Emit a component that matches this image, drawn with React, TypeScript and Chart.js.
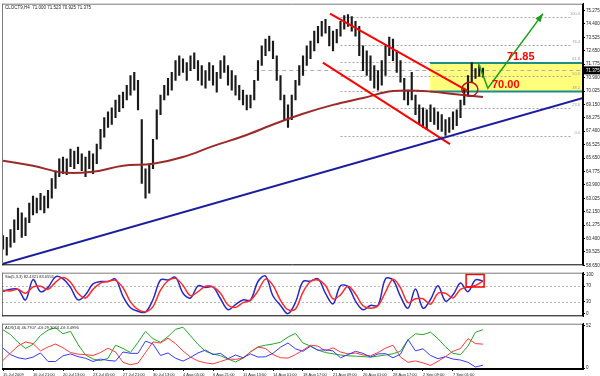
import React, { useEffect, useRef } from "react";
import { Chart, registerables } from "chart.js";

Chart.register(...registerables);

const FONT = '"Liberation Sans", Arial, sans-serif';

const chartTitle = "CLOCT9,H4  71.000 71.523 70.925 71.375";
const stochTitle = "Sto(5,3,3) 82.4321 83.0556";
const adxTitle = "ADX(14) 46.7707 +DI:29.3024 -DI:3.4996";

// OHLC bars (high / low), one per bar index
const barHighs = [
  60.59, 60.47, 60.98, 61.62, 62.39, 62.07, 61.75, 62.71, 63.16, 63.03,
  63.35, 63.16, 63.54, 64.31, 64.82, 65.6, 65.72, 65.6, 66.24, 66.11,
  66.37, 65.92, 65.72, 66.11, 65.92, 66.56, 67.52, 68.29, 68.67, 68.93,
  69.44, 69.76, 69.95, 70.4, 71.04, 71.24, 70.72, 68.16, 64.95, 65.28,
  66.88, 68.8, 69.76, 70.4, 70.85, 71.24, 72.01, 72.33, 72.13, 71.88,
  72.33, 72.52, 72.01, 71.69, 71.36, 71.88, 71.69, 71.24, 72.01, 72.33,
  71.69, 71.36, 71.04, 70.4, 70.08, 69.76, 69.76, 70.72, 72.01, 72.97,
  73.42, 73.61, 73.29, 72.33, 71.04, 69.76, 69.12, 69.76, 70.72, 71.69,
  72.33, 72.97, 73.29, 73.93, 74.25, 74.57, 74.7, 74.25, 73.93, 74.06,
  74.57, 74.95, 75.02, 74.89, 74.57, 74.25, 72.97, 72.65, 72.33, 71.69,
  71.36, 72.01, 72.97, 73.54, 73.42, 72.65, 72.01, 70.85, 70.08, 71.24,
  69.76, 69.12, 68.93, 68.8, 69.12, 68.93, 68.67, 68.48, 68.16, 68.29,
  68.67, 68.8, 69.44, 70.21, 71.04, 71.88, 71.49, 71.69, 71.52,
];
const barLows = [
  59.7, 59.31, 59.83, 60.15, 60.98, 60.47, 60.59, 61.43, 61.94, 62.07,
  62.26, 62.07, 62.39, 63.03, 63.67, 64.44, 64.63, 64.57, 65.08, 64.95,
  65.28, 64.82, 64.44, 64.95, 64.63, 65.28, 66.24, 67.01, 67.65, 67.84,
  68.29, 68.67, 68.93, 69.44, 69.76, 70.08, 68.8, 63.99, 63.03, 63.35,
  64.95, 66.88, 68.48, 69.44, 69.76, 70.08, 70.72, 71.04, 71.24, 70.72,
  71.36, 71.49, 70.72, 70.4, 70.21, 70.72, 70.4, 69.95, 70.85, 71.24,
  70.4, 70.08, 69.76, 69.44, 69.12, 68.8, 68.93, 69.44, 70.72, 71.69,
  72.33, 72.65, 72.13, 70.72, 69.44, 68.16, 67.65, 68.16, 69.44, 70.4,
  71.04, 71.69, 72.13, 72.65, 73.16, 73.61, 73.8, 72.97, 72.65, 73.16,
  73.61, 74.06, 74.25, 73.93, 73.61, 72.33, 71.36, 71.04, 70.72, 70.21,
  70.08, 70.4, 71.04, 72.33, 72.01, 71.24, 70.6, 69.44, 69.12, 69.44,
  68.48, 67.84, 67.65, 67.52, 68.03, 67.84, 67.52, 67.39, 67.13, 67.33,
  67.52, 67.77, 68.29, 69.12, 69.76, 70.6, 70.85, 70.98, 70.93,
];

// moving average samples
const maIndex = [0, 8, 16, 24, 32, 40, 48, 56, 64, 72, 80, 88, 96, 104, 112, 120, 128];
const maValues = [65.47, 65.15, 64.7, 64.76, 65.15, 65.28, 65.72, 66.43, 67.07, 67.84, 68.54, 69.12, 69.57, 70.02, 70.02, 69.83, 69.63];

// drawn objects
const trendX = [-0.27, 154.67];
const trendY = [58.74, 69.57];
const channelUpperX = [87.2, 124];
const channelUpperY = [75.08, 70.02];
const channelLowerX = [85.3, 119.2];
const channelLowerY = [71.88, 66.56];
const arrowX = [126.7, 129.3, 144];
const arrowY = [71.88, 70.21, 75.08];
const zoneStartX = 113.9;
const zoneTop = 71.85;
const zoneBottom = 70.0;
const zoneTopLabel = "71.85";
const zoneBottomLabel = "70.00";
const zoneTopLabelX = 134.4;
const zoneBottomLabelX = 130.4;
const circleX = 124.5;
const circleY = 70.14;
const lastPrice = 71.375;
const bidLineStartX = 67;
const fibStartX = 90;
const fibLevels = [74.88, 73.04, 71.9, 70.98, 70.05, 68.91, 67.07];
const fibLabels = ["100.0", "76.4", "61.8", "50.0", "38.2", "23.6", "0.0"];

const priceTicks = [
  58.65, 59.525, 60.4, 61.275, 62.15, 63.025, 63.9, 64.775, 65.65, 66.525,
  67.4, 68.275, 69.15, 70.025, 70.9, 71.775, 72.65, 73.525, 74.4, 75.275,
];

// indicators, one sample every 2 bars
const stochMain = [
  57, 62, 62, 35, 87, 56, 67, 94, 89, 67, 35, 48, 76, 82, 82, 88, 44, 15, 6, 4,
  36, 86, 86, 93, 52, 40, 71, 67, 68, 38, 10, 23, 35, 35, 82, 96, 45, 21, 0, 29,
  82, 83, 89, 52, 25, 71, 69, 32, 10, 21, 21, 89, 86, 44, 14, 63, 14, 36, 71, 32,
  48, 78, 56, 86, 83,
];
const stochSignal = [
  60, 58, 62, 52, 68, 70, 62, 80, 92, 80, 52, 40, 62, 78, 82, 85, 66, 30, 10, 5,
  18, 60, 84, 90, 72, 46, 56, 70, 68, 52, 22, 16, 28, 34, 58, 88, 72, 34, 10, 12,
  55, 82, 86, 72, 38, 48, 70, 50, 20, 14, 20, 55, 88, 66, 28, 38, 38, 24, 52, 52,
  40, 62, 68, 72, 83,
];
const stochLevels = [70, 30];
const stochTicks = [0, 30, 70, 100];
const stochBoxX = [123.5, 128.3];
const stochBoxY = [68, 100];

const adxMain = [
  47, 41, 31.6, 24, 29, 40, 46.5, 49.5, 42, 45, 29, 16, 11, 9, 12, 28, 24, 19, 31.6, 45,
  36, 31.6, 38.6, 47.5, 50, 39.6, 29, 20.5, 17.3, 15, 11, 7.5, 12, 20, 26, 28, 29.5, 31.6, 38, 42.5,
  30.7, 27, 22, 19, 17.5, 16, 15, 14.6, 14, 13.4, 14.6, 16, 17.5, 20.5, 34.7, 42, 41, 44, 36, 26,
  18, 16.5, 27, 44, 47,
];
const plusDI = [
  9.4, 18.5, 27, 32, 30, 21, 25.8, 29.5, 24.8, 19, 17, 16.5, 15.4, 19, 24.4, 19.7, 7, 4, 6, 19,
  32, 30.7, 36.6, 30, 21, 13.4, 8.7, 6.3, 5, 8, 11, 10.6, 12, 19.7, 25.6, 24, 16.5, 12.6, 12.2, 16.5,
  22, 28, 26.8, 21, 24.8, 19.7, 17.3, 18.5, 16, 15, 19, 24.4, 28, 13.4, 7, 8.7, 6.3, 3.2, 8.3, 14,
  20.5, 24, 36, 30, 29.3,
];
const minusDI = [
  24.4, 16.5, 12.6, 11, 13.4, 18.5, 8, 8, 15, 17.3, 14, 12, 8, 11, 9.4, 8.5, 19.7, 18, 18, 33,
  29.5, 15.4, 18.5, 12, 8.5, 13, 18.5, 22, 16.5, 18, 11.4, 16, 12.6, 17.3, 13.4, 13.8, 18, 25.6, 30.7, 23.6,
  20.5, 26.8, 21.7, 22.4, 21, 12.6, 16.5, 20.5, 18, 13.4, 17.3, 17.7, 12.6, 17, 35, 21, 23.6, 15.4, 11.4, 14,
  11, 9.8, 7, 1.2, 3.5,
];
const adxTicks = [0, 52];

const dateLabels = [
  "15 Jul 2009", "16 Jul 21:00", "20 Jul 13:00", "23 Jul 05:00", "27 Jul 21:00",
  "30 Jul 13:00", "4 Aug 05:00", "6 Aug 21:00", "11 Aug 13:00", "14 Aug 01:00",
  "18 Aug 17:00", "21 Aug 09:00", "26 Aug 01:00", "28 Aug 17:00", "2 Sep 09:00", "7 Sep 01:00",
];
const barsPerLabel = 8;
const indicatorStep = 2;

const X_MIN = -0.27;
const X_MAX = 154.67;
const AXIS_W = 17;
const SMALL = 4.5;
const TINY = 4;
const TEXT = "#222";

const xy = (xs: number[], ys: number[]) => xs.map((x, i) => ({ x, y: ys[i] }));
const stepSeries = (vals: number[]) => vals.map((v, k) => ({ x: k * indicatorStep, y: v }));

const framePlugin = {
  id: "frame",
  afterDraw(chart: any) {
    const { ctx, chartArea: a } = chart;
    ctx.save();
    ctx.strokeStyle = "#7a7a7a";
    ctx.lineWidth = 1;
    ctx.beginPath();
    ctx.moveTo(a.left + 0.5, a.top);
    ctx.lineTo(a.left + 0.5, a.bottom);
    ctx.moveTo(a.left, a.top + 0.5);
    ctx.lineTo(a.right, a.top + 0.5);
    ctx.stroke();
    ctx.strokeStyle = "#000";
    ctx.beginPath();
    ctx.moveTo(a.left, a.bottom - 0.5);
    ctx.lineTo(a.right, a.bottom - 0.5);
    ctx.moveTo(a.right - 0.5, a.top);
    ctx.lineTo(a.right - 0.5, a.bottom);
    ctx.stroke();
    ctx.restore();
  },
};

const mainOverlay = {
  id: "mainOverlay",
  beforeDatasetsDraw(chart: any) {
    const { ctx, chartArea: a, scales } = chart;
    const x = scales.x, y = scales.y;
    ctx.save();
    ctx.beginPath();
    ctx.rect(a.left, a.top, a.right - a.left, a.bottom - a.top);
    ctx.clip();
    const zx = x.getPixelForValue(zoneStartX);
    const zt = y.getPixelForValue(zoneTop);
    const zb = y.getPixelForValue(zoneBottom);
    ctx.fillStyle = "#ffff7c";
    ctx.fillRect(zx, zt, a.right - zx, zb - zt);
    const fx = x.getPixelForValue(fibStartX);
    ctx.strokeStyle = "#a8a8a8";
    ctx.lineWidth = 1;
    ctx.setLineDash([2, 2]);
    fibLevels.forEach((lv) => {
      const py = Math.round(y.getPixelForValue(lv)) + 0.5;
      ctx.beginPath();
      ctx.moveTo(fx, py);
      ctx.lineTo(a.right - 12, py);
      ctx.stroke();
    });
    ctx.strokeStyle = "#b0b0b0";
    ctx.setLineDash([4, 3]);
    const by = Math.round(y.getPixelForValue(lastPrice)) + 0.5;
    ctx.beginPath();
    ctx.moveTo(x.getPixelForValue(bidLineStartX), by);
    ctx.lineTo(a.right, by);
    ctx.stroke();
    ctx.setLineDash([]);
    ctx.strokeStyle = "#1c8c8c";
    ctx.lineWidth = 2;
    ctx.beginPath();
    ctx.moveTo(zx, zt);
    ctx.lineTo(a.right, zt);
    ctx.moveTo(zx, zb);
    ctx.lineTo(a.right, zb);
    ctx.stroke();
    ctx.fillStyle = "#9a9a9a";
    ctx.font = `${TINY}px ${FONT}`;
    ctx.textAlign = "right";
    ctx.textBaseline = "bottom";
    fibLevels.forEach((lv, i) => {
      ctx.fillText(fibLabels[i], a.right - 3, y.getPixelForValue(lv) - 1);
    });
    ctx.restore();
  },
  afterDatasetsDraw(chart: any) {
    const { ctx, chartArea: a, scales } = chart;
    const x = scales.x, y = scales.y;
    ctx.save();
    ctx.strokeStyle = "#b01818";
    ctx.lineWidth = 1.5;
    ctx.beginPath();
    ctx.ellipse(x.getPixelForValue(circleX), y.getPixelForValue(circleY), 8, 7, 0, 0, Math.PI * 2);
    ctx.stroke();
    const n = arrowX.length;
    const x1 = x.getPixelForValue(arrowX[n - 1]), y1 = y.getPixelForValue(arrowY[n - 1]);
    const x0 = x.getPixelForValue(arrowX[n - 2]), y0 = y.getPixelForValue(arrowY[n - 2]);
    const ang = Math.atan2(y1 - y0, x1 - x0);
    ctx.fillStyle = "#18a018";
    ctx.beginPath();
    ctx.moveTo(x1, y1);
    ctx.lineTo(x1 - 9 * Math.cos(ang - 0.35), y1 - 9 * Math.sin(ang - 0.35));
    ctx.lineTo(x1 - 9 * Math.cos(ang + 0.35), y1 - 9 * Math.sin(ang + 0.35));
    ctx.closePath();
    ctx.fill();
    ctx.fillStyle = "#ff0000";
    ctx.font = `bold 11px ${FONT}`;
    ctx.textAlign = "left";
    ctx.textBaseline = "alphabetic";
    ctx.fillText(zoneTopLabel, x.getPixelForValue(zoneTopLabelX), y.getPixelForValue(zoneTop) - 3);
    ctx.fillText(zoneBottomLabel, x.getPixelForValue(zoneBottomLabelX), y.getPixelForValue(zoneBottom) - 3);
    ctx.fillStyle = TEXT;
    ctx.font = `${SMALL}px ${FONT}`;
    ctx.textBaseline = "top";
    ctx.fillText(chartTitle, a.left + 3, a.top + 2);
    ctx.restore();
  },
  afterDraw(chart: any) {
    const { ctx, chartArea: a, scales } = chart;
    const y = scales.y;
    const py = y.getPixelForValue(lastPrice);
    ctx.save();
    ctx.fillStyle = "#000";
    ctx.fillRect(a.right, py - 4, 600 - a.right, 8);
    ctx.fillStyle = "#fff";
    ctx.font = `${SMALL}px ${FONT}`;
    ctx.textAlign = "left";
    ctx.textBaseline = "middle";
    ctx.fillText(lastPrice.toFixed(3), a.right + 3, py);
    ctx.restore();
  },
};

function rightAxis(min: number, max: number, ticks: number[], fmt: (v: number) => string) {
  return {
    position: "right",
    min,
    max,
    afterFit(s: any) {
      s.width = AXIS_W;
    },
    afterBuildTicks(s: any) {
      s.ticks = ticks.map((v) => ({ value: v }));
    },
    ticks: {
      font: { size: SMALL, family: FONT },
      color: TEXT,
      padding: 1,
      autoSkip: false,
      callback: (v: number) => fmt(v),
    },
    grid: { display: true, drawOnChartArea: false, drawTicks: true, tickLength: 2, color: "#000" },
    border: { display: true, color: "#000" },
  };
}

export default function App() {
  const mainRef = useRef<HTMLCanvasElement>(null);
  const stochRef = useRef<HTMLCanvasElement>(null);
  const adxRef = useRef<HTMLCanvasElement>(null);

  useEffect(() => {
    const charts: Chart[] = [];
    const lineDs = (data: any[], color: string, width: number, extra: any = {}) => ({
      type: "line",
      data,
      borderColor: color,
      borderWidth: width,
      pointRadius: 0,
      fill: false,
      tension: 0,
      order: 1,
      ...extra,
    });

    charts.push(
      new Chart(mainRef.current!, {
        type: "bar",
        data: {
          datasets: [
            {
              type: "bar",
              data: barHighs.map((h, i) => ({ x: i, y: [barLows[i], h] })),
              backgroundColor: "#1a1a1a",
              barThickness: 1.5,
              order: 10,
            } as any,
            lineDs(xy(maIndex, maValues), "#9c2a2a", 2, { tension: 0.4, order: 3 }),
            lineDs(xy(trendX, trendY), "#1c1ca0", 2),
            lineDs(xy(channelUpperX, channelUpperY), "#ff0000", 2),
            lineDs(xy(channelLowerX, channelLowerY), "#ff0000", 2),
            lineDs(xy(arrowX, arrowY), "#18a018", 1.5),
          ],
        },
        options: {
          animation: false,
          responsive: false,
          maintainAspectRatio: false,
          layout: { padding: { left: 2, top: 2, right: 0, bottom: 1 } },
          plugins: { legend: { display: false }, tooltip: { enabled: false } },
          scales: {
            x: { type: "linear", min: X_MIN, max: X_MAX, display: false, offset: false },
            y: rightAxis(58.65, 75.725, priceTicks, (v) => v.toFixed(3)) as any,
          },
        },
        plugins: [mainOverlay, framePlugin],
      } as any)
    );

    const stochOverlay = {
      id: "stochOverlay",
      beforeDatasetsDraw(chart: any) {
        const { ctx, chartArea: a, scales } = chart;
        ctx.save();
        ctx.strokeStyle = "#b8b8b8";
        ctx.setLineDash([2, 2]);
        ctx.lineWidth = 1;
        stochLevels.forEach((lv) => {
          const py = Math.round(scales.y.getPixelForValue(lv)) + 0.5;
          ctx.beginPath();
          ctx.moveTo(a.left, py);
          ctx.lineTo(a.right, py);
          ctx.stroke();
        });
        ctx.restore();
      },
      afterDatasetsDraw(chart: any) {
        const { ctx, chartArea: a, scales } = chart;
        ctx.save();
        const bx0 = scales.x.getPixelForValue(stochBoxX[0]);
        const bx1 = scales.x.getPixelForValue(stochBoxX[1]);
        const by0 = scales.y.getPixelForValue(stochBoxY[1]);
        const by1 = scales.y.getPixelForValue(stochBoxY[0]);
        ctx.strokeStyle = "#ff0000";
        ctx.lineWidth = 1.5;
        ctx.strokeRect(bx0, by0, bx1 - bx0, by1 - by0);
        ctx.fillStyle = TEXT;
        ctx.font = `${TINY}px ${FONT}`;
        ctx.textBaseline = "top";
        ctx.fillText(stochTitle, a.left + 3, a.top + 2);
        ctx.restore();
      },
    };

    charts.push(
      new Chart(stochRef.current!, {
        type: "line",
        data: {
          datasets: [
            lineDs(stepSeries(stochSignal), "#ff2a2a", 1.5, { tension: 0.35 }),
            lineDs(stepSeries(stochMain), "#2828c8", 1.5, { tension: 0.35 }),
          ],
        },
        options: {
          animation: false,
          responsive: false,
          maintainAspectRatio: false,
          layout: { padding: { left: 2, top: 1, right: 0, bottom: 0 } },
          plugins: { legend: { display: false }, tooltip: { enabled: false } },
          scales: {
            x: { type: "linear", min: X_MIN, max: X_MAX, display: false },
            y: rightAxis(-6.8, 104.5, stochTicks, (v) => String(v)) as any,
          },
        },
        plugins: [stochOverlay, framePlugin],
      } as any)
    );

    const adxOverlay = {
      id: "adxOverlay",
      afterDatasetsDraw(chart: any) {
        const { ctx, chartArea: a } = chart;
        ctx.save();
        ctx.fillStyle = TEXT;
        ctx.font = `${TINY}px ${FONT}`;
        ctx.textBaseline = "top";
        ctx.fillText(adxTitle, a.left + 3, a.top + 2);
        ctx.restore();
      },
    };

    const dateTicks = dateLabels.map((_, i) => i * barsPerLabel);
    charts.push(
      new Chart(adxRef.current!, {
        type: "line",
        data: {
          datasets: [
            lineDs(stepSeries(minusDI), "#3a3aff", 1),
            lineDs(stepSeries(plusDI), "#ff3a3a", 1),
            lineDs(stepSeries(adxMain), "#24a824", 1),
          ],
        },
        options: {
          animation: false,
          responsive: false,
          maintainAspectRatio: false,
          layout: { padding: { left: 2, top: 1, right: 0, bottom: 0 } },
          plugins: { legend: { display: false }, tooltip: { enabled: false } },
          scales: {
            x: {
              type: "linear",
              min: X_MIN,
              max: X_MAX,
              afterFit(s: any) {
                s.height = 8;
              },
              afterBuildTicks(s: any) {
                s.ticks = dateTicks.map((v) => ({ value: v }));
              },
              ticks: {
                font: { size: TINY, family: FONT },
                color: TEXT,
                align: "start",
                padding: 1,
                maxRotation: 0,
                autoSkip: false,
                callback: (v: number) => dateLabels[Math.round(v / barsPerLabel)] ?? "",
              },
              grid: { display: true, drawOnChartArea: false, drawTicks: true, tickLength: 2, color: "#000" },
              border: { display: true, color: "#000" },
            },
            y: rightAxis(-1.2, 54.4, adxTicks, (v) => String(v)) as any,
          },
        },
        plugins: [adxOverlay, framePlugin],
      } as any)
    );

    return () => charts.forEach((c) => c.destroy());
  }, []);

  return (
    <div style={{ position: "fixed", left: 0, top: 0, width: 600, height: 376, background: "#fff" }}>
      <canvas ref={mainRef} width={600} height={269} style={{ position: "absolute", left: 0, top: 0 }} />
      <canvas ref={stochRef} width={600} height={51} style={{ position: "absolute", left: 0, top: 269 }} />
      <canvas ref={adxRef} width={600} height={57} style={{ position: "absolute", left: 0, top: 320 }} />
    </div>
  );
}
